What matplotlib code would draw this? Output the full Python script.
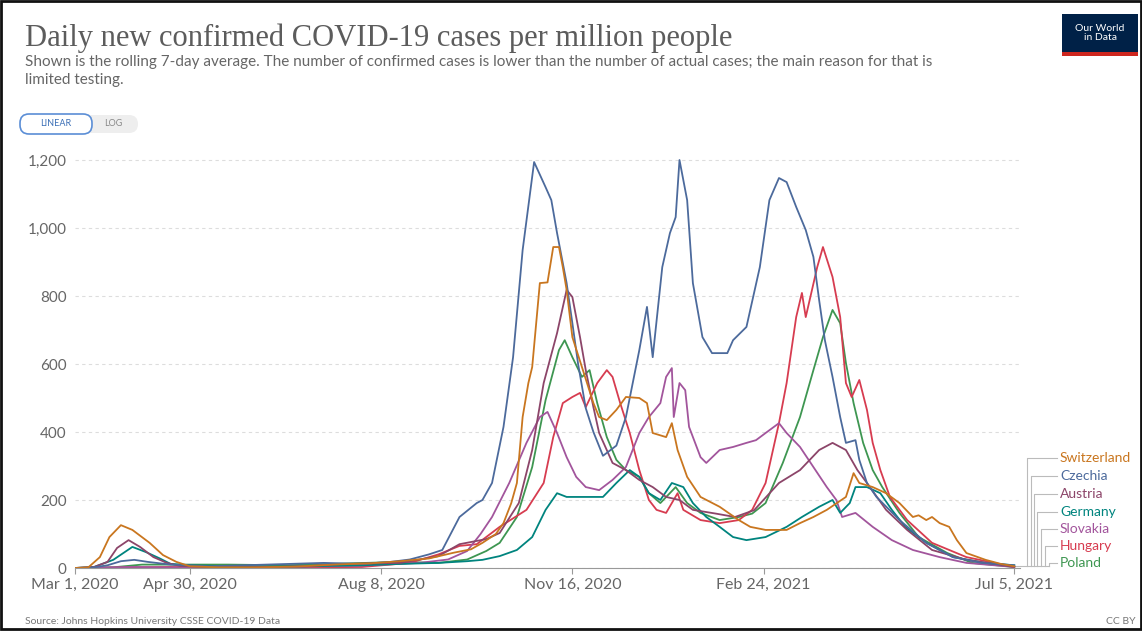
import matplotlib.pyplot as plt
import matplotlib.patches as mpatches
import numpy as np

plt.rcParams["font.family"] = ["Lato", "DejaVu Sans"]

START = np.datetime64("2020-03-01")

# -------------------------------------
# Data (days since Mar 1, 2020 -> 7-day avg. cases per million)
# -------------------------------------

switzerland_days = [0, 7, 13, 18, 24, 30, 39, 46, 53, 60, 75, 95, 115, 135, 155, 170, 185,
                    198, 207, 213, 220, 224, 228, 231, 234, 237, 239, 243, 247, 250, 253,
                    255, 257, 260, 265, 271, 274, 278, 283, 288, 295, 299, 302, 309, 312,
                    315, 320, 327, 337, 347, 353, 361, 372, 379, 386, 393, 403, 407, 410,
                    417, 424, 431, 438, 441, 445, 448, 452, 457, 461, 466, 476, 484, 491]
switzerland_vals = [0, 2, 32, 91, 126, 112, 74, 38, 18, 5, 2, 2, 4, 10, 14, 20, 28,
                    45, 55, 74, 100, 132, 190, 250, 444, 544, 591, 838, 840, 944, 944,
                    885, 818, 679, 591, 485, 444, 435, 465, 503, 500, 485, 397, 385, 426,
                    347, 268, 209, 180, 141, 121, 112, 112, 132, 150, 171, 209, 279, 250,
                    238, 220, 191, 150, 155, 141, 150, 132, 121, 82, 44, 24, 12, 5]

czechia_days = [0, 10, 17, 24, 31, 38, 50, 70, 100, 130, 150, 165, 175, 185, 192, 201, 210,
                213, 218, 224, 229, 234, 240, 246, 249, 252, 257, 260, 263, 267, 271,
                276, 283, 288, 295, 299, 302, 307, 311, 314, 316, 320, 323, 328, 333,
                341, 344, 351, 358, 363, 368, 372, 377, 382, 386, 389, 392, 396, 400,
                403, 408, 410, 414, 419, 431, 445, 459, 474, 491]
czechia_vals = [0, 2, 8, 20, 24, 18, 10, 5, 10, 15, 12, 18, 25, 40, 53, 150, 191,
                200, 250, 415, 620, 935, 1194, 1120, 1082, 985, 838, 720, 600, 470, 400,
                330, 360, 444, 641, 768, 620, 885, 985, 1032, 1200, 1082, 838, 679, 632,
                632, 670, 709, 885, 1082, 1147, 1135, 1062, 994, 915, 788, 670, 562, 444,
                368, 376, 318, 250, 209, 141, 74, 32, 15, 8]

austria_days = [0, 10, 17, 22, 28, 34, 41, 48, 55, 70, 90, 120, 140, 170, 190, 201, 215,
                222, 232, 239, 245, 252, 257, 260, 264, 267, 271, 274, 281, 288, 295,
                302, 309, 316, 323, 335, 345, 355, 368, 379, 389, 396, 403, 409, 414,
                424, 435, 448, 466, 491]
austria_vals = [0, 3, 18, 59, 82, 62, 32, 15, 6, 3, 2, 5, 12, 15, 35, 70, 85,
                103, 191, 347, 544, 691, 818, 797, 679, 582, 473, 397, 309, 288, 259,
                238, 209, 200, 171, 160, 150, 170, 250, 288, 347, 368, 347, 288, 250,
                171, 112, 53, 24, 3]

germany_days = [0, 10, 20, 30, 37, 44, 50, 60, 80, 100, 120, 150, 170, 190, 205, 213, 222,
                231, 239, 246, 252, 257, 267, 276, 283, 290, 295, 300, 306, 312, 318,
                323, 330, 337, 344, 351, 361, 372, 380, 389, 396, 400, 405, 408, 414,
                421, 427, 434, 445, 459, 476, 491]
germany_vals = [0, 3, 24, 62, 47, 29, 12, 8, 5, 4, 5, 8, 12, 15, 20, 24, 35,
                53, 91, 171, 220, 209, 209, 209, 250, 288, 268, 220, 200, 250, 238,
                191, 150, 121, 91, 82, 91, 121, 150, 180, 200, 162, 191, 238, 238,
                220, 171, 121, 74, 32, 15, 8]

slovakia_days = [0, 30, 60, 100, 150, 180, 195, 205, 212, 218, 227, 236, 243, 247, 252,
                 257, 262, 267, 274, 281, 288, 295, 300, 306, 309, 312, 313, 316, 319,
                 321, 327, 330, 337, 344, 351, 356, 361, 368, 372, 379, 386, 393, 398,
                 401, 408, 417, 427, 438, 452, 466, 491]
slovakia_vals = [0, 3, 1, 2, 7, 15, 25, 50, 100, 150, 250, 368, 444, 459, 397,
                 326, 268, 238, 229, 259, 297, 397, 444, 485, 562, 588, 444, 544, 523,
                 415, 326, 309, 347, 356, 368, 376, 397, 426, 397, 356, 297, 238, 200,
                 150, 162, 121, 82, 53, 32, 15, 3]

hungary_days = [0, 30, 50, 100, 150, 175, 190, 201, 210, 222, 236, 245, 250, 255, 260,
                264, 267, 273, 278, 281, 285, 290, 295, 300, 304, 309, 315, 318, 327,
                337, 347, 354, 361, 368, 372, 377, 380, 382, 388, 391, 396, 400, 403,
                406, 410, 414, 417, 421, 426, 435, 448, 466, 491]
hungary_vals = [0, 2, 3, 1, 3, 15, 40, 65, 70, 121, 171, 250, 385, 485, 503,
                515, 473, 544, 582, 562, 485, 397, 288, 200, 171, 162, 220, 171, 141,
                132, 141, 171, 250, 426, 544, 738, 809, 738, 885, 944, 856, 738, 544,
                503, 553, 465, 368, 288, 209, 141, 74, 32, 3]

poland_days = [0, 20, 35, 60, 80, 110, 140, 170, 190, 205, 215, 222, 231, 239, 246, 253,
               256, 260, 265, 269, 273, 278, 283, 288, 295, 300, 306, 314, 320, 327,
               337, 347, 354, 361, 370, 379, 386, 391, 396, 400, 403, 407, 412, 417,
               422, 431, 441, 456, 469, 491]
poland_vals = [0, 2, 10, 10, 10, 8, 13, 18, 15, 25, 50, 74, 150, 297, 494, 641,
               670, 620, 562, 582, 485, 385, 318, 288, 268, 220, 191, 238, 191, 162,
               141, 150, 160, 191, 309, 444, 582, 679, 759, 720, 603, 485, 368, 288,
               238, 162, 91, 44, 15, 3]

countries = ["Switzerland", "Czechia", "Austria", "Germany", "Slovakia", "Hungary", "Poland"]
series = {
    "Switzerland": (switzerland_days, switzerland_vals),
    "Czechia": (czechia_days, czechia_vals),
    "Austria": (austria_days, austria_vals),
    "Germany": (germany_days, germany_vals),
    "Slovakia": (slovakia_days, slovakia_vals),
    "Hungary": (hungary_days, hungary_vals),
    "Poland": (poland_days, poland_vals),
}
colors = {
    "Switzerland": "#C9761F",
    "Czechia": "#4C6A9C",
    "Austria": "#8C4569",
    "Germany": "#00847E",
    "Slovakia": "#A2559C",
    "Hungary": "#D73C50",
    "Poland": "#3E9651",
}

tick_days = [0, 60, 160, 260, 360, 491]
tick_labels = ["Mar 1, 2020", "Apr 30, 2020", "Aug 8, 2020", "Nov 16, 2020",
               "Feb 24, 2021", "Jul 5, 2021"]
y_ticks = [0, 200, 400, 600, 800, 1000, 1200]

# -------------------------------------
# Plotting
# -------------------------------------

W, H = 1142, 631
fig = plt.figure(figsize=(W / 100, H / 100), dpi=100)

# pixel-space overlay for header, footer, logo and label leaders
deco = fig.add_axes([0, 0, 1, 1])
deco.set_xlim(0, W)
deco.set_ylim(H, 0)
deco.axis("off")

ax = fig.add_axes([75 / W, 1 - 568 / H, 945 / W, (568 - 156.6) / H])
ax.patch.set_alpha(0)

for name in countries[::-1]:
    days, vals = series[name]
    ax.plot(START + np.array(days), vals, color=colors[name], lw=1.3)

ax.set_ylim(0, 1210)
ax.set_xlim(START, START + np.timedelta64(494, "D"))
ax.set_yticks(y_ticks)
ax.set_yticklabels([f"{v:,}" for v in y_ticks])
ax.set_xticks(START + np.array(tick_days))
ax.set_xticklabels(tick_labels)
ax.grid(axis="y", color="#dddddd", lw=0.8, ls=(0, (3, 3)))
ax.set_axisbelow(True)
for side in ["top", "right", "left"]:
    ax.spines[side].set_visible(False)
ax.spines["bottom"].set_color("#999999")
ax.tick_params(axis="y", length=0, pad=6, labelsize=11, labelcolor="#666666")
ax.tick_params(axis="x", length=4, color="#999999", pad=3, labelsize=11.5,
               labelcolor="#666666")

# header
deco.text(25, 38, "Daily new confirmed COVID-19 cases per million people",
          fontsize=22, family="Liberation Serif", color="#5c5c5c", va="center")
deco.text(25, 62, "Shown is the rolling 7-day average. The number of confirmed cases is "
          "lower than the number of actual cases; the main reason for that is",
          fontsize=11, color="#666666", va="center")
deco.text(25, 80, "limited testing.", fontsize=11, color="#666666", va="center")

# LINEAR / LOG toggle
deco.add_patch(mpatches.FancyBboxPatch((22, 115), 116, 18,
                                       boxstyle="round,pad=0,rounding_size=9",
                                       fc="#eeeeee", ec="none"))
deco.add_patch(mpatches.FancyBboxPatch((20, 114), 72, 20,
                                       boxstyle="round,pad=0,rounding_size=9",
                                       fc="white", ec="#5b8ed6", lw=1.2))
deco.text(56, 124, "LINEAR", fontsize=6.5, color="#3b6fb6", ha="center", va="center")
deco.text(113, 124, "LOG", fontsize=6.5, color="#888888", ha="center", va="center")

# logo
deco.add_patch(mpatches.Rectangle((1062, 14), 76, 38, fc="#002147", ec="none"))
deco.add_patch(mpatches.Rectangle((1062, 52), 76, 4, fc="#ce261e", ec="none"))
deco.text(1100, 33, "Our World\nin Data", color="white", fontsize=7.5, ha="center",
          va="center", linespacing=1.0)

# footer
deco.text(25, 622, "Source: Johns Hopkins University CSSE COVID-19 Data",
          fontsize=7.5, color="#777777", va="center")
deco.text(1136, 622, "CC BY", fontsize=7.5, color="#777777", va="center", ha="right")

# end labels with leader lines
label_y = [458, 476, 494, 512, 529, 546, 563]
vx = [1027, 1031, 1034, 1037, 1041, 1045, 1049]
deco.plot([1015, 1049], [566, 566], color="#bbbbbb", lw=0.8)
for name, ly, x0 in zip(countries, label_y, vx):
    deco.plot([x0, x0, 1057], [566, ly, ly], color="#bbbbbb", lw=0.8)
    deco.text(1060, ly, name, color=colors[name], fontsize=10, va="center")

# frame
deco.add_patch(mpatches.Rectangle((1, 1), W - 2, H - 3, fc="none", ec="#111111", lw=2))

fig.savefig("out.png", dpi=100)
